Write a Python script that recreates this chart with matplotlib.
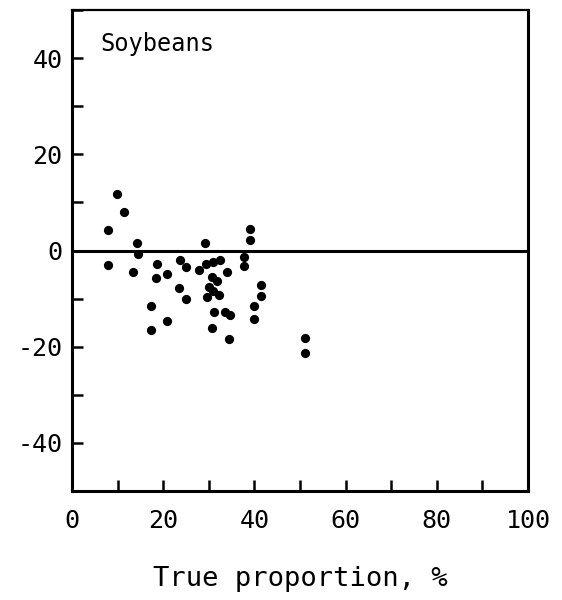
import matplotlib
matplotlib.use("Agg")
import matplotlib.pyplot as plt
from matplotlib.ticker import MultipleLocator

true_prop = [8.0, 9.8, 11.4, 14.3, 14.5, 8.0, 13.3, 18.7, 18.4, 20.8,
             17.3, 17.3, 20.9, 23.7, 24.9, 23.5, 24.9, 27.8, 29.2, 29.3,
             30.9, 32.4, 34.1, 37.8, 37.8, 39.0, 39.0, 30.8, 31.8, 30.1,
             30.9, 29.6, 32.3, 41.4, 41.4, 39.9, 39.9, 31.1, 33.6, 34.6,
             30.8, 34.5, 51.1, 51.1]
error = [4.2, 11.7, 8.0, 1.5, -0.7, -3.0, -4.5, -2.8, -5.7, -4.9,
         -11.5, -16.5, -14.7, -1.9, -3.5, -7.8, -10.1, -4.1, 1.5, -2.9,
         -2.3, -1.9, -4.5, -1.3, -3.3, 4.4, 2.2, -5.5, -6.4, -7.5,
         -8.4, -9.6, -9.2, -7.1, -9.5, -11.6, -14.2, -12.7, -12.7, -13.5,
         -16.1, -18.3, -18.1, -21.3]
x_ticklabels = [0, 20, 40, 60, 80, 100]
y_ticklabels = [-40, -20, 0, 20, 40]
panel_title = "Soybeans"
x_label = "True proportion, %"

plt.rcParams['font.family'] = ['DejaVu Sans Mono']

fig = plt.figure(figsize=(5.62, 6.0), dpi=100)
ax = fig.add_axes([72/562, 1 - 491/600, (528-72)/562, (491-10)/600])

ax.scatter(true_prop, error, s=44, color='black', zorder=3, linewidths=0)
ax.axhline(0, color='black', linewidth=2.2, zorder=2)

ax.set_xlim(0, 100)
ax.set_ylim(-50, 50)
ax.set_xticks(x_ticklabels)
ax.set_xticklabels([str(v) for v in x_ticklabels])
ax.set_yticks(y_ticklabels)
ax.set_yticklabels([str(v) for v in y_ticklabels])
ax.xaxis.set_minor_locator(MultipleLocator(10))
ax.yaxis.set_minor_locator(MultipleLocator(10))
ax.tick_params(axis='both', which='both', direction='in', length=8, width=1.8,
               top=False, right=False, color='black')
ax.tick_params(axis='x', which='major', labelsize=18, pad=13)
ax.tick_params(axis='y', which='major', labelsize=18, pad=7)

for side in ['left', 'bottom', 'right']:
    ax.spines[side].set_linewidth(2.2)
ax.spines['top'].set_linewidth(1.6)

ax.text(0.062, 0.955, panel_title, transform=ax.transAxes, fontsize=17,
        va='top', ha='left')
ax.set_xlabel(x_label, fontsize=19.5, labelpad=24)

fig.savefig("out.png", dpi=100)
